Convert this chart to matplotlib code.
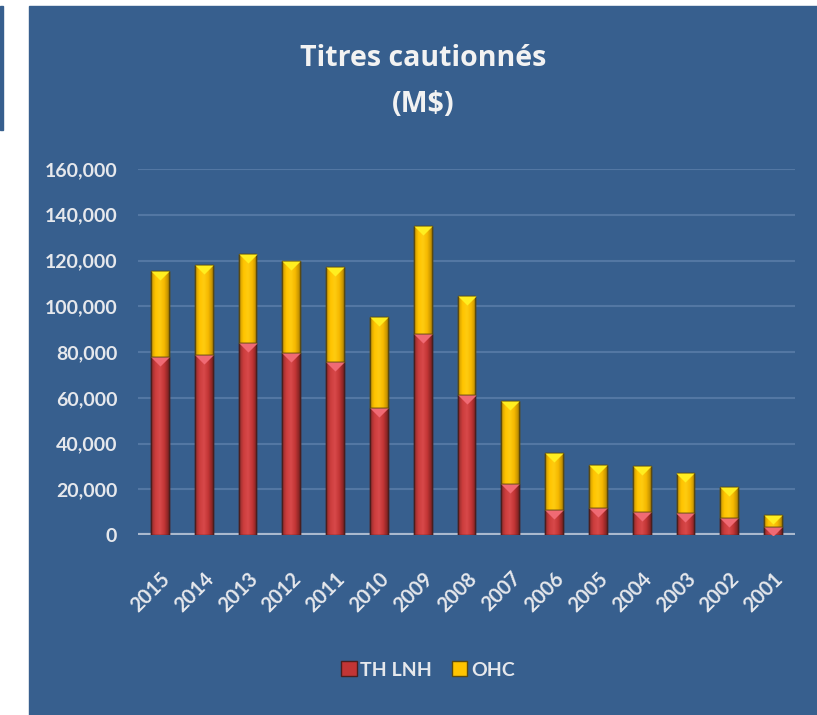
import matplotlib
matplotlib.use("Agg")
import matplotlib.pyplot as plt
from matplotlib.patches import Rectangle
from matplotlib.path import Path
from matplotlib.colors import LinearSegmentedColormap
import numpy as np

years = ["2015", "2014", "2013", "2012", "2011", "2010", "2009", "2008",
         "2007", "2006", "2005", "2004", "2003", "2002", "2001"]
th_lnh = [78000, 78500, 84000, 79500, 75500, 55500, 88000, 61000,
          22500, 11000, 12000, 10000, 9500, 7300, 3500]
ohc = [37500, 39500, 38800, 40300, 41500, 39800, 47000, 43500,
       36000, 25000, 18500, 20000, 17500, 13500, 5200]
yticks = [0, 20000, 40000, 60000, 80000, 100000, 120000, 140000, 160000]

BG = "#375F8E"
TXT = "#E6E8EC"
plt.rcParams["font.family"] = ["Lato", "DejaVu Sans"]
plt.rcParams["font.weight"] = "bold"

fig = plt.figure(figsize=(8.17, 7.15), dpi=100, facecolor="white")
# blue panel + small strip at left
fig.patches.append(Rectangle((29/817, 0), 1 - 29/817, 1 - 6/715,
                             transform=fig.transFigure, color=BG, zorder=-5))
fig.patches.append(Rectangle((0, 1 - 130/715), 3/817, 124/715,
                             transform=fig.transFigure, color=BG, zorder=-5))

ax = fig.add_axes([138/817, 1 - 535/715, (795 - 138)/817, (535 - 169)/715])
ax.set_facecolor("none")
x = np.arange(len(years))
w = 0.41

red_cm = LinearSegmentedColormap.from_list("r", ["#8E2A2A", "#CC3D3D", "#D8494A", "#C23535", "#7E2222"])
yel_cm = LinearSegmentedColormap.from_list("y", ["#C89600", "#FFC400", "#FFCC10", "#F5B800", "#B88A00"])
grad = np.linspace(0, 1, 64).reshape(1, -1)

b1 = ax.bar(x, th_lnh, w, color="#CC3D3D", edgecolor="#4A1E1E", lw=1.0, zorder=3)
b2 = ax.bar(x, ohc, w, bottom=th_lnh, color="#FFC400", edgecolor="#5A4A10", lw=1.0, zorder=3)
for bars, cm in ((b1, red_cm), (b2, yel_cm)):
    for p in bars:
        x0, y0 = p.get_x(), p.get_y()
        im = ax.imshow(grad, cmap=cm, aspect="auto", zorder=3.5,
                       extent=(x0, x0 + p.get_width(), y0, y0 + p.get_height()))
        im.set_clip_path(p)
        ax.add_patch(Rectangle((x0, y0), p.get_width(), p.get_height(), fill=False,
                               edgecolor=p.get_edgecolor(), lw=1.0, zorder=4))

# triangle highlights at top of each segment
tri = Path([(-1, 0), (1, 0), (0, -1.0), (-1, 0)], [1, 2, 2, 79])
tops_r = np.array(th_lnh)
tops_y = tops_r + np.array(ohc)
ax.scatter(x, tops_r, marker=tri, s=170, color="#F06A74", lw=0, zorder=5)
ax.scatter(x, tops_y, marker=tri, s=170, color="#FFEE20", lw=0, zorder=5)

ax.set_xlim(-0.5, len(years) - 0.5)
ax.set_ylim(0, 160000)
ax.set_yticks(yticks)
ax.set_yticklabels([f"{v:,}" for v in yticks])
ax.set_xticks(x)
ax.set_xticklabels(years, rotation=45, ha="right", rotation_mode="anchor")
ax.tick_params(length=0, colors=TXT, labelsize=14.5)
ax.tick_params(axis="y", pad=15, labelsize=14)
ax.tick_params(axis="x", pad=24)
for lab in ax.get_xticklabels() + ax.get_yticklabels():
    lab.set_fontweight("bold")
for s in ax.spines.values():
    s.set_visible(False)
ax.grid(axis="y", color="#5377A3", lw=1.5, zorder=1)
ax.axhline(0, color="#AAB9CE", lw=3, zorder=2)

fig.text(423/817, 1 - 58/715, "Titres cautionnés", ha="center", va="center",
         color="#F2F2F2", fontsize=20.5, fontweight="bold", family="Open Sans")
fig.text(423/817, 1 - 105/715, "(M$)", ha="center", va="center",
         color="#F2F2F2", fontsize=20.5, fontweight="bold", family="Open Sans")

h1 = Rectangle((0, 0), 1, 1, facecolor="#C23535", edgecolor="#4A1E1E")
h2 = Rectangle((0, 0), 1, 1, facecolor="#FFC400", edgecolor="#5A4A10")
fig.legend([h1, h2], ["TH LNH", "OHC"], loc="center", bbox_to_anchor=(428/817, 1 - 670/715),
           ncol=2, frameon=False, handlelength=0.8, handleheight=0.8, handletextpad=0.2,
           columnspacing=1.0, prop={"weight": "bold", "size": 14}, labelcolor=TXT)

fig.savefig("out.png", dpi=100, facecolor=fig.get_facecolor())
